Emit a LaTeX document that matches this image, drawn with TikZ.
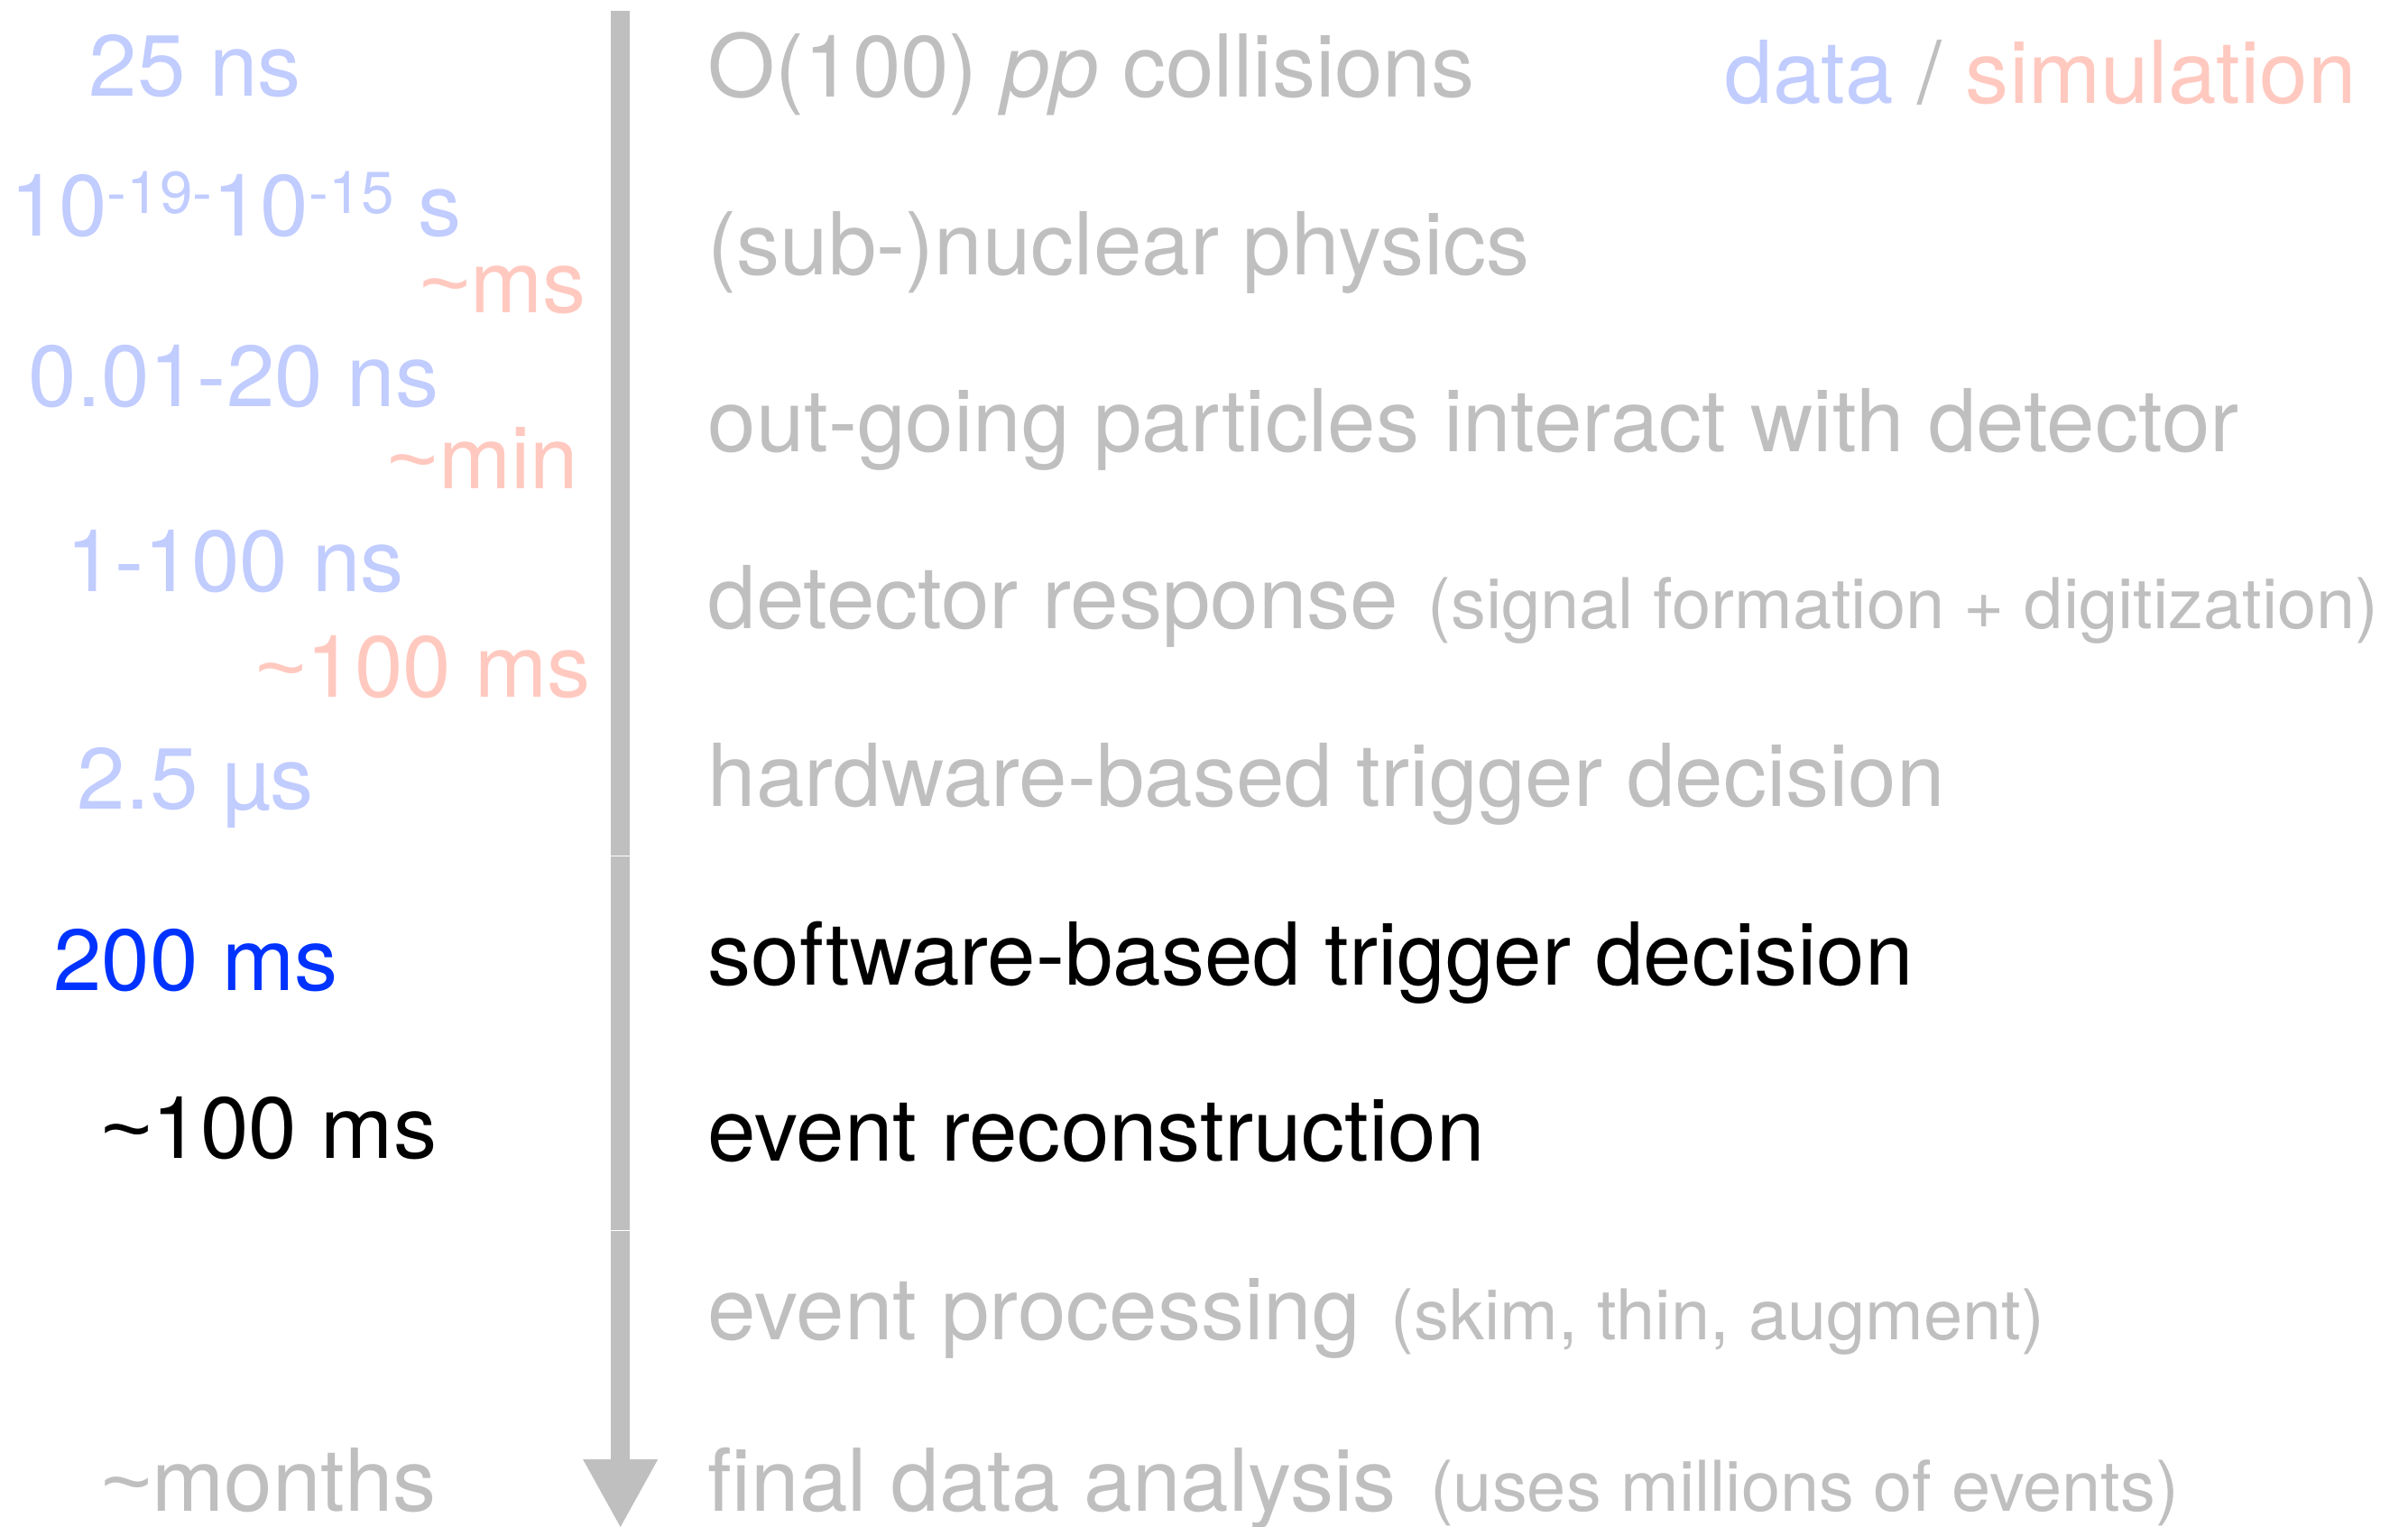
\documentclass[tikz,border=0pt]{standalone}
\usepackage{fontspec}
\setmainfont{TeX Gyre Heros}
\newfontfamily\tildefont{Liberation Sans}
\definecolor{dataC}{RGB}{193,204,255}
\definecolor{simC}{RGB}{255,201,192}
\definecolor{greyC}{RGB}{191,191,191}
\definecolor{blueC}{RGB}{0,51,255}
\newcommand\fntL{\fontsize{56.5}{68}\selectfont}
\newcommand\fntS{\fontsize{45.6}{54}\selectfont}
\newcommand\fntX{\fontsize{38.5}{46}\selectfont}
\newcommand\supx[1]{\raisebox{14.7pt}{\fntX #1}}
\newcommand\tld{{\tildefont\textasciitilde}}
\tikzset{
  txt/.style={anchor=base west, inner sep=0pt, outer sep=0pt, font=\fntL},
  smalltxt/.style={anchor=base west, inner sep=0pt, outer sep=0pt, font=\fntS, text=greyC},
  datatxt/.style={txt, text=dataC},
  simtxt/.style={txt, text=simC},
  greytxt/.style={txt, text=greyC},
  blacktxt/.style={txt, text=black},
  bluetxt/.style={txt, text=blueC},
  shaftfill/.style={fill=greyC},
  seam/.style={draw=white, line width=0.7pt}
}
\begin{document}
\begin{tikzpicture}[x=1pt,y=-1pt]
\useasboundingbox (0,0) rectangle (1568,994);
% time line arrow
\coordinate (atop) at (404,7);
\coordinate (abase) at (404,950);
\coordinate (atip) at (404,994);
\fill[shaftfill] ([xshift=-6.15pt]atop) rectangle ([xshift=6.15pt]abase);
\fill[shaftfill] ([xshift=-24.4pt]abase) -- ([xshift=24.4pt]abase) -- (atip) -- cycle;
\draw[seam] (397.8,557.2) -- (410.1,557.2);
\draw[seam] (397.8,801) -- (410.1,801);
% left column: time scales
\node[datatxt] (t1) at (58,62.5) {25 ns};
\node[datatxt] (t2) at (7,153.5) {10\supx{-19-}10\supx{-15} s};
\node[simtxt] (t3) at (273.5,203.5) {\tld ms};
\node[datatxt] (t4) at (18.7,264.8) {0.01-20 ns};
\node[simtxt] (t5) at (252.6,317.9) {\tld min};
\node[datatxt] (t6) at (43.2,385) {1-100 ns};
\node[simtxt] (t7) at (166.6,454) {\tld 100 ms};
\node[datatxt] (t8) at (50.5,526.5) {2.5 µs};
\node[bluetxt] (t9) at (34.9,645) {200 ms};
\node[blacktxt] (t10) at (66.2,753.8) {\tld 100 ms};
\node[greytxt] (t11) at (66.2,983.7) {\tld months};
% right column: steps
\node[greytxt] (r1) at (461,63) {O(100) \textit{pp} collisions};
\node[greytxt] (r2) at (461,179) {(sub-)nuclear physics};
\node[greytxt] (r3) at (461,294) {out-going particles interact with detector};
\node[greytxt] (r4) at (461,409) {detector response};
\node[smalltxt] (r4s) at ([xshift=19pt]r4.base east) {(signal formation + digitization)};
\node[greytxt] (r5) at (461,525) {hardware-based trigger decision};
\node[blacktxt] (r6) at (461,641) {software-based trigger decision};
\node[blacktxt] (r7) at (461,756) {event reconstruction};
\node[greytxt] (r8) at (461,872) {event processing};
\node[smalltxt] (r8s) at ([xshift=20pt]r8.base east) {(skim, thin, augment)};
\node[greytxt] (r9) at (461,984) {final data analysis};
\node[smalltxt] (r9s) at ([xshift=22pt]r9.base east) {(uses millions of events)};
% legend
\node[txt] (leg) at (1123,67.4) {\textcolor{dataC}{data} \textcolor{greyC}{/} \textcolor{simC}{simulation}};
\end{tikzpicture}
\end{document}
